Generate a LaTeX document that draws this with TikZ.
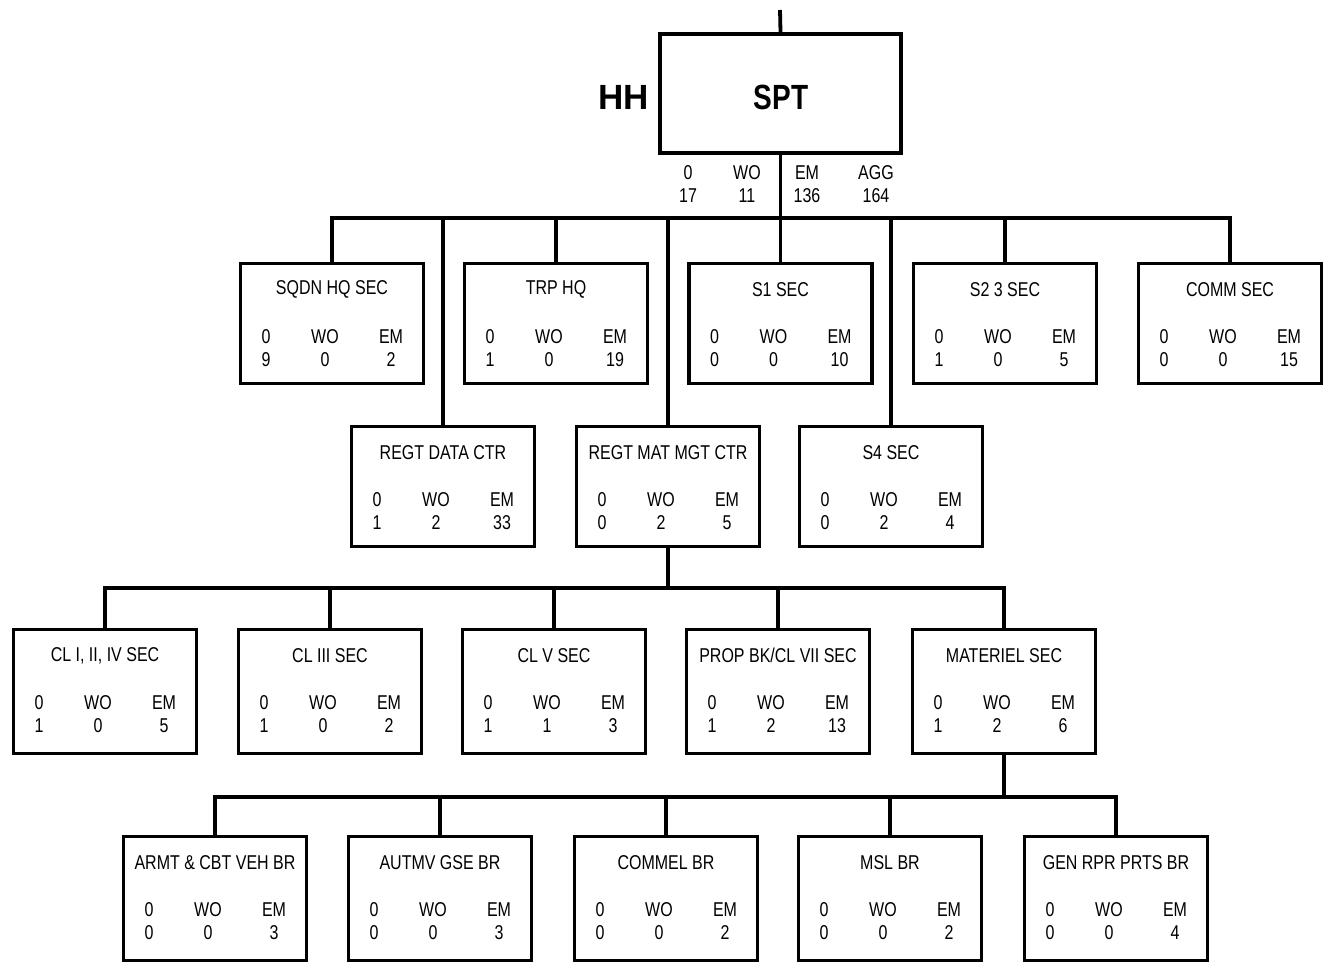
\documentclass[tikz,border=0pt]{standalone}
\usepackage{fontspec}
\setmainfont{Liberation Sans}[FakeStretch=0.8]
\newfontfamily\hhfont{Liberation Sans}
\begin{document}
\tikzset{
  unit/.style={draw, line width=3.5pt, minimum width=183pt, minimum height=120pt, inner sep=0pt},
  tall/.style={minimum height=124pt},
  conn/.style={line width=3.8pt},
  txt/.style={inner sep=0pt, font=\fontsize{20}{24}\selectfont, anchor=center}
}
\newcommand\orgbox[8]{%
  \node[unit,#4] (#1) at (#2,#3) {};
  \node[txt] (#1-t) at ([yshift=-28pt]#1.north) {#5};
  \node[txt] (#1-ol) at ([xshift=-66pt,yshift=-75pt]#1.north) {0};
  \node[txt] (#1-wl) at ([xshift=-7pt,yshift=-75pt]#1.north) {WO};
  \node[txt] (#1-el) at ([xshift=59pt,yshift=-75pt]#1.north) {EM};
  \node[txt] (#1-on) at ([xshift=-66pt,yshift=-98pt]#1.north) {#6};
  \node[txt] (#1-wn) at ([xshift=-7pt,yshift=-98pt]#1.north) {#7};
  \node[txt] (#1-en) at ([xshift=59pt,yshift=-98pt]#1.north) {#8};
}
\begin{tikzpicture}[x=1pt,y=-1pt]
\useasboundingbox (0,0) rectangle (1329,963);
% top unit
\node[draw, line width=3.5pt, minimum width=241pt, minimum height=119pt, inner sep=0pt] (spt) at (780.5,93.5) {};
\node[inner sep=0pt, font=\fontsize{35}{40}\selectfont\bfseries] (spttxt) at (781,97) {SPT};
\node[inner sep=0pt, anchor=east, font=\hhfont\fontsize{35}{40}\selectfont\bfseries] (hh) at (649,97) {HH};
\coordinate (top) at (780,10);
\node[txt] (a1) at (688,173) {0};
\node[txt] (a2) at (747,173) {WO};
\node[txt] (a3) at (807,173) {EM};
\node[txt] (a4) at (876,173) {AGG};
\node[txt] (b1) at (688,196) {17};
\node[txt] (b2) at (747,196) {11};
\node[txt] (b3) at (807,196) {136};
\node[txt] (b4) at (876,196) {164};
% row 1
\orgbox{sqdn}{332}{323.5}{}{SQDN HQ SEC}{9}{0}{2}
\orgbox{trp}{556}{323.5}{}{TRP HQ}{1}{0}{19}
\orgbox{sone}{780.5}{323.5}{}{S1 SEC}{0}{0}{10}
\orgbox{stwo}{1005}{323.5}{}{S2 3 SEC}{1}{0}{5}
\orgbox{comm}{1230}{323.5}{}{COMM SEC}{0}{0}{15}
% row 2
\orgbox{rdc}{443}{486.5}{}{REGT DATA CTR}{1}{2}{33}
\orgbox{rmm}{668}{486.5}{}{REGT MAT MGT CTR}{0}{2}{5}
\orgbox{sfour}{891}{486.5}{}{S4 SEC}{0}{2}{4}
% row 3
\orgbox{clone}{105}{691.5}{tall}{CL I, II, IV SEC}{1}{0}{5}
\orgbox{clthree}{330}{691.5}{tall}{CL III SEC}{1}{0}{2}
\orgbox{clfive}{554}{691.5}{tall}{CL V SEC}{1}{1}{3}
\orgbox{prop}{778}{691.5}{tall}{PROP BK/CL VII SEC}{1}{2}{13}
\orgbox{mat}{1004}{691.5}{tall}{MATERIEL SEC}{1}{2}{6}
% row 4
\orgbox{armt}{215}{898.5}{tall}{ARMT \& CBT VEH BR}{0}{0}{3}
\orgbox{autmv}{440}{898.5}{tall}{AUTMV GSE BR}{0}{0}{3}
\orgbox{commel}{666}{898.5}{tall}{COMMEL BR}{0}{0}{2}
\orgbox{msl}{890}{898.5}{tall}{MSL BR}{0}{0}{2}
\orgbox{gen}{1116}{898.5}{tall}{GEN RPR PRTS BR}{0}{0}{4}
% buses
\coordinate (bus1) at (0,218);
\coordinate (bus2) at (0,588);
\coordinate (bus3) at (0,797);
\draw[conn] (top) -- (spt.north);
\draw[conn] (spt.south) -- (sone.north);
\draw[conn] (sqdn.north) -- (sqdn.north |- bus1) -- (comm.north |- bus1) -- (comm.north);
\foreach \n in {trp,stwo,rdc,rmm,sfour} \draw[conn] (\n.north) -- (\n.north |- bus1);
\draw[conn] (clone.north) -- (clone.north |- bus2) -- (mat.north |- bus2) -- (mat.north);
\draw[conn] (rmm.south) -- (rmm.south |- bus2);
\foreach \n in {clthree,clfive,prop} \draw[conn] (\n.north) -- (\n.north |- bus2);
\draw[conn] (armt.north) -- (armt.north |- bus3) -- (gen.north |- bus3) -- (gen.north);
\draw[conn] (mat.south) -- (mat.south |- bus3);
\foreach \n in {autmv,commel,msl} \draw[conn] (\n.north) -- (\n.north |- bus3);
\end{tikzpicture}
\end{document}
